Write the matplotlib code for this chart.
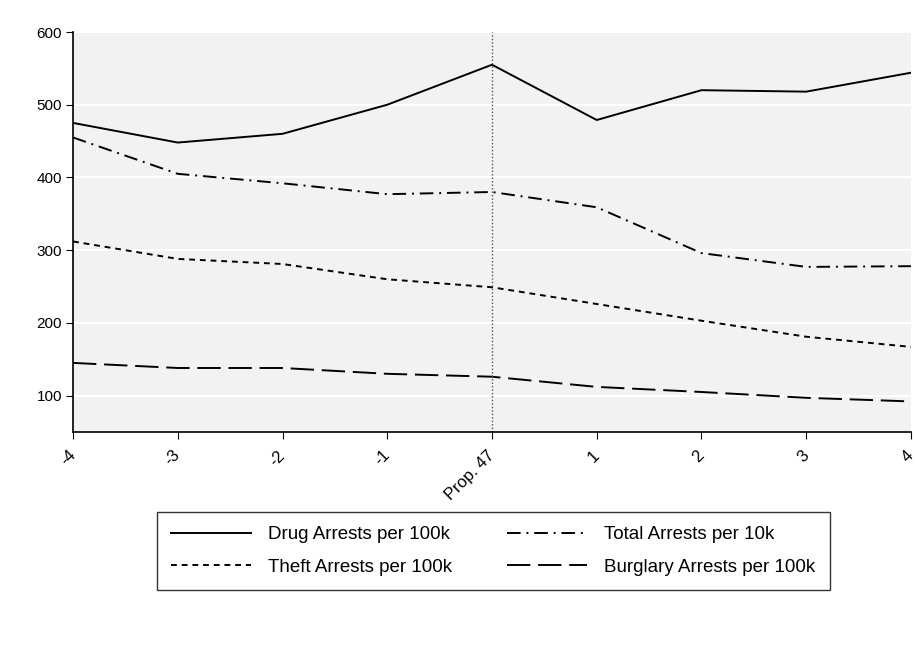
import matplotlib.pyplot as plt

plt.rcParams['font.family'] = ['Liberation Sans', 'DejaVu Sans']

# years relative to Prop. 47
periods = [-4, -3, -2, -1, 0, 1, 2, 3, 4]
tick_labels = ['-4', '-3', '-2', '-1', 'Prop. 47', '1', '2', '3', '4']

drug = [475, 448, 460, 500, 555, 479, 520, 518, 544]
total = [455, 405, 392, 377, 380, 359, 296, 277, 278]
theft = [312, 288, 281, 260, 249, 226, 203, 181, 167]
burglary = [145, 138, 138, 130, 126, 112, 105, 97, 92]

fig = plt.figure(figsize=(9.15, 6.71), dpi=100)
ax = fig.add_axes([0.0798, 0.3562, 0.9158, 0.5961])
ax.set_facecolor('#f2f2f2')

ax.plot(periods, drug, color='black', lw=1.4, label='Drug Arrests per 100k')
ax.plot(periods, total, color='black', lw=1.4, dashes=(7, 3, 1, 3),
        label='Total Arrests per 10k')
ax.plot(periods, theft, color='black', lw=1.4, dashes=(3, 2.5),
        label='Theft Arrests per 100k')
ax.plot(periods, burglary, color='black', lw=1.4, dashes=(12, 4),
        label='Burglary Arrests per 100k')

ax.axvline(0, color='#555555', lw=1, ls=(0, (1, 1.5)))

ax.set_xlim(-4, 4)
ax.set_ylim(50, 600)
ax.set_yticks([100, 200, 300, 400, 500, 600])
ax.yaxis.grid(True, color='white', lw=1.5)
ax.set_axisbelow(True)
ax.set_xticks(periods)
ax.set_xticklabels(tick_labels, rotation=45, ha='right', va='center',
                   rotation_mode='anchor', fontsize=12)
ax.tick_params(axis='x', pad=10)
ax.tick_params(axis='y', labelsize=11, pad=3)
ax.tick_params(axis='both', color='black', length=5)

for s in ['top', 'right']:
    ax.spines[s].set_visible(False)
for s in ['left', 'bottom']:
    ax.spines[s].set_linewidth(1.2)

handles, labels = ax.get_legend_handles_labels()
order = [0, 2, 1, 3]
fig.legend([handles[i] for i in order], [labels[i] for i in order],
           loc='center', bbox_to_anchor=(0.539, 0.179), ncol=2,
           fontsize=13.5, frameon=True, fancybox=False, edgecolor='black',
           handlelength=4.3, handletextpad=0.9, columnspacing=2.9,
           borderpad=0.75, labelspacing=0.8)

fig.savefig('out.png', dpi=100, facecolor='white')
